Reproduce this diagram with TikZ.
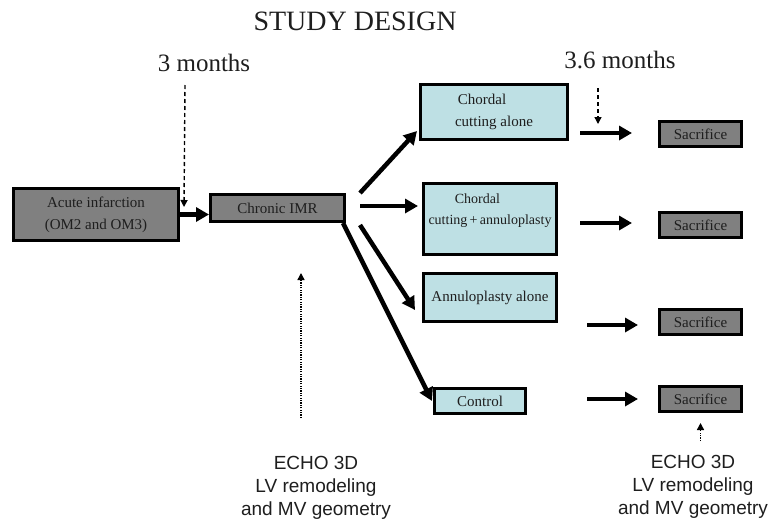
\documentclass[tikz,border=0pt]{standalone}
\usepackage{fontspec}
\newfontfamily\timesf{Liberation Serif}
\newfontfamily\arialf{Liberation Sans}
\usetikzlibrary{arrows.meta}
\definecolor{boxgray}{RGB}{128,128,128}
\definecolor{boxblue}{RGB}{190,224,228}
\definecolor{inktext}{RGB}{30,30,30}
\begin{document}
\begin{tikzpicture}[x=1pt,y=-1pt,
  gbox/.style={draw=black, line width=3pt, fill=boxgray, font=\timesf\fontsize{15}{22}\selectfont, text=inktext, align=center, inner sep=0pt},
  bbox/.style={gbox, fill=boxblue},
  txt/.style={font=\timesf\fontsize{15}{22}\selectfont, text=inktext, align=center, inner sep=0pt},
  big/.style={line width=4.5pt, -{Triangle[length=13pt,width=14pt]}},
  dsh/.style={line width=1.4pt, dash pattern=on 4pt off 3pt, -{Triangle[length=7pt,width=7pt]}},
  dotted arrow/.style={line width=1.4pt, dash pattern=on 1.2pt off 1.2pt, -{Triangle[length=7pt,width=7pt]}},
  serifbig/.style={font=\timesf\fontsize{25}{30}\selectfont, text=inktext},
  echo/.style={font=\arialf\fontsize{19}{23}\selectfont, text=inktext, align=center}]
\useasboundingbox (0,0) rectangle (773,525);

% title and time labels
\node[serifbig, font=\timesf\fontsize{28}{32}\selectfont] (title) at (355,21) {STUDY DESIGN};
\node[serifbig] (m3) at (204,63) {3 months};
\node[serifbig] (m36) at (620,60) {3.6 months};

% boxes
\node[gbox, minimum width=165pt, minimum height=52pt] (acute) at (96,214.5) {Acute infarction\\(OM2 and OM3)};
\node[gbox, minimum width=134pt, minimum height=27pt] (chronic) at (277.5,208) {Chronic IMR};
\node[bbox, minimum width=147pt, minimum height=55pt] (cca) at (494,112) {Chordal\hspace*{1.6em}\\cutting alone};
\node[bbox, minimum width=133pt, minimum height=71pt] (cc2) at (490,219) {};
\node[txt, font=\timesf\fontsize{14}{21}\selectfont] (cc2t) at ([yshift=8pt]cc2.center) {Chordal\hspace*{1.8em}\\cutting\,+\,annuloplasty};
\node[bbox, minimum width=133pt, minimum height=48pt] (ann) at (490,297.5) {Annuloplasty\ alone};
\node[bbox, minimum width=91pt, minimum height=25pt] (ctl) at (480,401) {Control};
\node[gbox, minimum width=82pt, minimum height=25pt] (s1) at (700.5,134) {Sacrifice};
\node[gbox, minimum width=82pt, minimum height=25pt] (s2) at (700.5,225) {Sacrifice};
\node[gbox, minimum width=82pt, minimum height=25pt] (s3) at (700.5,322) {Sacrifice};
\node[gbox, minimum width=82pt, minimum height=25pt] (s4) at (700.5,399) {Sacrifice};

% echo labels
\node[echo] (echoL) at (316,488) {ECHO 3D\\LV remodeling\\and MV geometry};
\node[echo] (echoR) at (693,487) {ECHO 3D\\LV remodeling\\and MV geometry};

% main arrows
\draw[big] (acute.east) -- (acute.east -| chronic.west);
\draw[big] ([xshift=14pt]chronic.north east) -- ([xshift=-2pt,yshift=10pt]cca.south west);
\draw[big] ([xshift=14pt,yshift=2pt]chronic.east) -- ([xshift=-4pt,yshift=2pt]chronic.east -| cc2.west);
\draw[big] ([xshift=14pt,yshift=-2pt]chronic.south east) -- ([xshift=-7pt,yshift=13pt]ann.south west);
\draw[big] ([xshift=-3pt]chronic.south east) -- ([xshift=-1pt]ctl.west);

\draw[big] ([xshift=-78pt,yshift=1pt]s1.west) -- ([xshift=-26pt,yshift=1pt]s1.west);
\draw[big] ([xshift=-78pt,yshift=2pt]s2.west) -- ([xshift=-26pt,yshift=2pt]s2.west);
\draw[big] ([xshift=-71pt,yshift=-3pt]s3.west) -- ([xshift=-20pt,yshift=-3pt]s3.west);
\draw[big] ([xshift=-71pt]s4.west) -- ([xshift=-20pt]s4.west);

% time / measurement arrows
\coordinate (d3s) at (185,85);
\draw[dsh] (d3s) -- ([xshift=4pt,yshift=-20pt]acute.north east);
\coordinate (d36s) at (598,88);
\coordinate (d36e) at (598,124);
\draw[dsh] (d36s) -- (d36e);
\coordinate (eLs) at (301,418);
\coordinate (eLe) at (301,273);
\draw[dotted arrow] (eLs) -- (eLe);
\draw[dotted arrow] ([yshift=-28pt]s4.south) -- ([yshift=-10pt]s4.south);
\end{tikzpicture}
\end{document}
